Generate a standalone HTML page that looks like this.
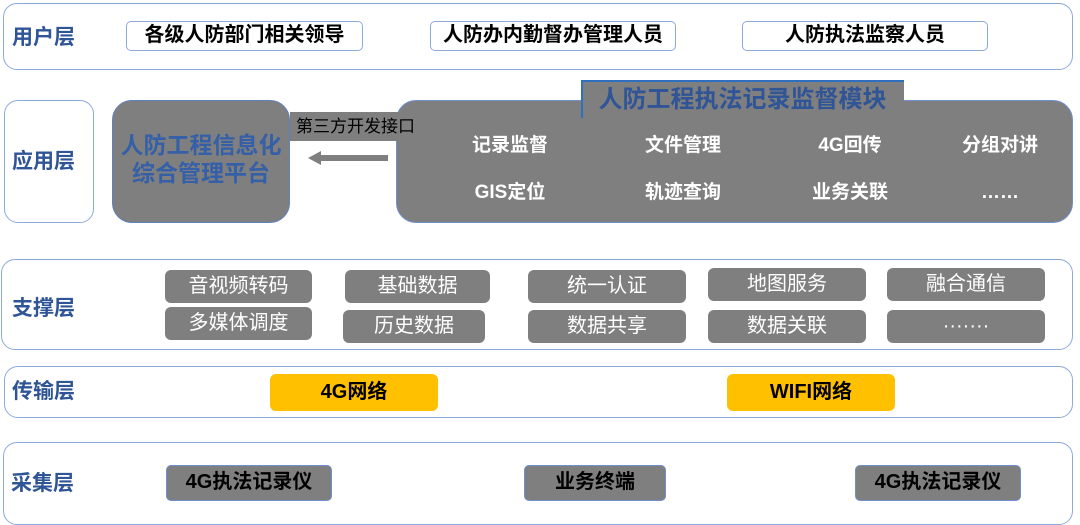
<!DOCTYPE html>
<html><head><meta charset="utf-8"><style>
*{margin:0;padding:0;box-sizing:border-box}
body{width:1080px;height:525px;background:#fff;position:relative;overflow:hidden;font-family:"Liberation Sans","Noto Sans CJK SC",sans-serif}
.a{position:absolute}
.layer{position:absolute;border:1.5px solid #8eaadb;border-radius:14px;background:#fff}
.lbl{position:absolute;color:#2f5597;font-weight:bold;font-size:21px;line-height:24px}
.ub{position:absolute;border:1.5px solid #8eaadb;border-radius:5px;font-weight:bold;font-size:20px;text-align:center;line-height:27px;color:#000;height:30px}
.g{position:absolute;background:#7f7f7f;border-radius:6px;color:#fff;font-size:20px;text-align:center;line-height:33px;height:33px}
.it{position:absolute;color:#fff;font-weight:bold;font-size:19px;line-height:22px;text-align:center;width:140px}
.y{position:absolute;background:#ffc000;border-radius:6px;font-weight:bold;font-size:20px;text-align:center;line-height:37px;height:37px}
.c{position:absolute;background:#7f7f7f;border:1.5px solid #6f8fcf;border-radius:5px;font-weight:bold;font-size:20px;text-align:center;line-height:33px;height:36px}
</style></head><body>
<div class="layer" style="left:3px;top:3px;width:1070px;height:67px"></div>
<div class="lbl" style="left:12px;top:26px">用户层</div>
<div class="ub" style="left:126px;top:21px;width:237px">各级人防部门相关领导</div>
<div class="ub" style="left:430px;top:21px;width:246px">人防办内勤督办管理人员</div>
<div class="ub" style="left:742px;top:21px;width:246px">人防执法监察人员</div>

<div class="layer" style="left:4px;top:100px;width:90px;height:123px"></div>
<div class="lbl" style="left:12px;top:150px">应用层</div>
<div class="a" style="left:112px;top:100px;width:178px;height:123px;background:#7f7f7f;border:1.5px solid #5f7fbf;border-radius:20px"></div>
<div class="a" style="left:112px;top:131px;width:178px;color:#3560a8;font-weight:bold;font-size:23px;line-height:28px;text-align:center">人防工程信息化<br>综合管理平台</div>
<div class="a" style="left:396px;top:100px;width:677px;height:123px;background:#7f7f7f;border:1.5px solid #6f8fcf;border-radius:20px"></div>
<div class="a" style="left:290px;top:112px;width:118px;height:29px;background:#7f7f7f;color:#000;font-size:17px;line-height:29px;padding-left:6px;white-space:nowrap">第三方开发接口</div>
<div class="a" style="left:320px;top:155px;width:68px;height:6px;background:#7f7f7f"></div>
<div class="a" style="left:308px;top:151px;width:0;height:0;border-top:7px solid transparent;border-bottom:7px solid transparent;border-right:13px solid #7f7f7f"></div>
<div class="a" style="left:581px;top:80px;width:323px;height:38px;background:#7f7f7f;border-left:2px solid #2f6fbf;border-top:2px solid #2f6fbf"></div>
<div class="a" style="left:581px;top:85px;width:323px;color:#2f5597;font-weight:bold;font-size:24px;line-height:30px;text-align:center">人防工程执法记录监督模块</div>
<div class="it" style="left:440px;top:135px">记录监督</div>
<div class="it" style="left:613px;top:135px">文件管理</div>
<div class="it" style="left:780px;top:135px">4G回传</div>
<div class="it" style="left:930px;top:135px">分组对讲</div>
<div class="it" style="left:440px;top:182px">GIS定位</div>
<div class="it" style="left:613px;top:182px">轨迹查询</div>
<div class="it" style="left:780px;top:182px">业务关联</div>
<div class="it" style="left:930px;top:182px">……</div>

<div class="layer" style="left:1px;top:259px;width:1072px;height:91px"></div>
<div class="lbl" style="left:12px;top:297px">支撑层</div>
<div class="g" style="left:165px;top:270px;width:147px">音视频转码</div>
<div class="g" style="left:165px;top:307px;width:147px">多媒体调度</div>
<div class="g" style="left:345px;top:270px;width:145px">基础数据</div>
<div class="g" style="left:343px;top:310px;width:142px">历史数据</div>
<div class="g" style="left:528px;top:270px;width:158px">统一认证</div>
<div class="g" style="left:528px;top:310px;width:158px">数据共享</div>
<div class="g" style="left:708px;top:268px;width:158px">地图服务</div>
<div class="g" style="left:708px;top:310px;width:158px">数据关联</div>
<div class="g" style="left:887px;top:268px;width:158px">融合通信</div>
<div class="g" style="left:887px;top:310px;width:158px">·······</div>

<div class="layer" style="left:4px;top:366px;width:1069px;height:52px"></div>
<div class="lbl" style="left:12px;top:380px">传输层</div>
<div class="y" style="left:270px;top:374px;width:168px">4G网络</div>
<div class="y" style="left:727px;top:374px;width:168px">WIFI网络</div>

<div class="layer" style="left:3px;top:442px;width:1070px;height:83px"></div>
<div class="lbl" style="left:11px;top:472px">采集层</div>
<div class="c" style="left:166px;top:465px;width:166px">4G执法记录仪</div>
<div class="c" style="left:524px;top:465px;width:142px">业务终端</div>
<div class="c" style="left:855px;top:465px;width:166px">4G执法记录仪</div>
</body></html>
